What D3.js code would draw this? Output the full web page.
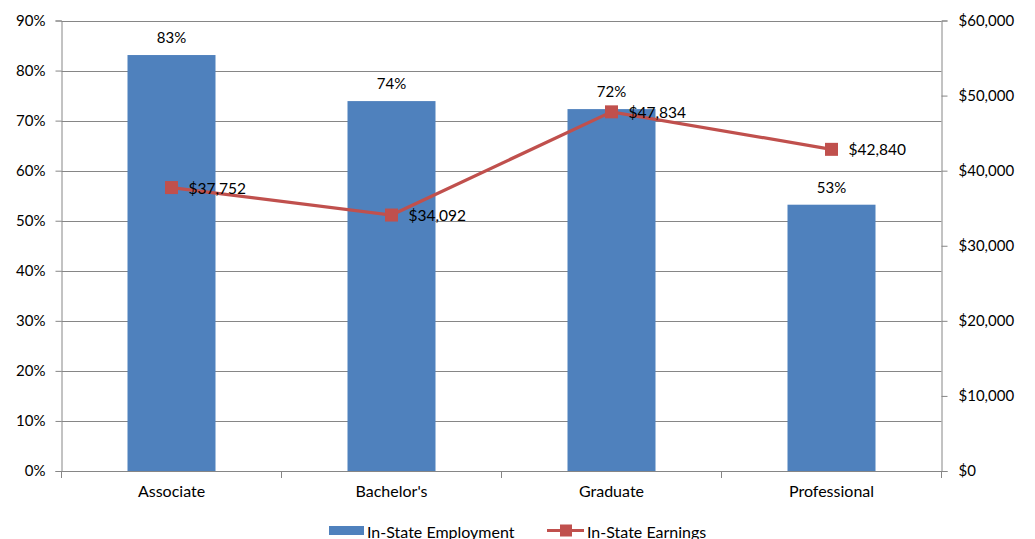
<!DOCTYPE html>
<html><head><meta charset="utf-8">
<script src="https://cdn.jsdelivr.net/npm/d3@7"></script>
<style>body{margin:0;background:#fff}svg{display:block}text{font-family:Lato,"Liberation Sans",sans-serif;fill:#000}</style>
</head><body><svg id="c" width="1035" height="539"></svg>
<script>
const categories = ["Associate", "Bachelor's", "Graduate", "Professional"];
const employment = [0.831, 0.739, 0.723, 0.532];
const earnings = [37752, 34092, 47834, 42840];
const leftTicks = [0,0.1,0.2,0.3,0.4,0.5,0.6,0.7,0.8,0.9];
const rightTicks = [0,10000,20000,30000,40000,50000,60000];
const seriesNames = ["In-State Employment", "In-State Earnings"];

const svg = d3.select("#c");
const L = 61.5, R = 941.5, T = 20.5, B = 471;
const x = d3.scaleBand().domain(categories).range([L, R]).paddingInner(0.6).paddingOuter(0.3);
const xb = d3.scaleBand().domain(categories).range([L, R]);
const yL = d3.scaleLinear().domain([0, 0.9]).range([B, T]);
const yR = d3.scaleLinear().domain([0, 60000]).range([B, T]);
const grey = "#868686";
const fs = "15px";
const fsW = "16px";

// gridlines
svg.append("g").selectAll("line").data(leftTicks.slice(1)).join("line")
  .attr("x1", L).attr("x2", R).attr("y1", d => Math.round(yL(d)) + 0.5).attr("y2", d => Math.round(yL(d)) + 0.5)
  .attr("stroke", grey).attr("stroke-width", 1);

// bars
svg.append("g").selectAll("rect").data(categories).join("rect")
  .attr("x", d => x(d)).attr("width", x.bandwidth())
  .attr("y", (d, i) => yL(employment[i])).attr("height", (d, i) => B - yL(employment[i]))
  .attr("fill", "#4F81BD");

// left axis
const gl = svg.append("g").attr("transform", `translate(${L},0)`)
  .call(d3.axisLeft(yL).tickValues(leftTicks).tickFormat(d3.format(".0%")).tickSize(6).tickPadding(10));
gl.select(".domain").attr("stroke", grey);
gl.selectAll(".tick line").attr("stroke", grey);
gl.selectAll("text").style("font-size", fs).attr("font-family", null);

// right axis
const gr = svg.append("g").attr("transform", `translate(${R},0)`)
  .call(d3.axisRight(yR).tickValues(rightTicks).tickFormat(d => "$" + d3.format(",")(d)).tickSize(6).tickPadding(11));
gr.select(".domain").attr("stroke", grey);
gr.selectAll(".tick line").attr("stroke", grey);
gr.selectAll("text").style("font-size", fs).attr("font-family", null);

// bottom axis
const gb = svg.append("g").attr("transform", `translate(0,${B})`)
  .call(d3.axisBottom(xb).tickSize(0).tickPadding(15));
gb.select(".domain").attr("stroke", grey);
gb.selectAll("text").style("font-size", fsW).attr("font-family", null);
svg.append("g").selectAll("line").data(categories.concat(["__end"])).join("line")
  .attr("x1", (d, i) => i < categories.length ? xb(d) : R)
  .attr("x2", (d, i) => i < categories.length ? xb(d) : R)
  .attr("y1", B).attr("y2", B + 7).attr("stroke", grey);

// bar labels
svg.append("g").selectAll("text").data(categories).join("text")
  .attr("x", d => x(d) + x.bandwidth() / 2).attr("y", (d, i) => yL(employment[i]) - 12)
  .attr("text-anchor", "middle").style("font-size", fs)
  .text((d, i) => d3.format(".0%")(employment[i]));

// line
const cx = d => xb(d) + xb.bandwidth() / 2;
const line = d3.line().x(d => cx(d)).y((d, i) => yR(earnings[i]));
svg.append("path").datum(categories).attr("d", line)
  .attr("fill", "none").attr("stroke", "#C0504D").attr("stroke-width", 3.2);
svg.append("g").selectAll("rect").data(categories).join("rect")
  .attr("x", d => cx(d) - 6.5).attr("y", (d, i) => yR(earnings[i]) - 6.5)
  .attr("width", 13).attr("height", 13).attr("fill", "#C0504D");
svg.append("g").selectAll("text").data(categories).join("text")
  .attr("x", d => cx(d) + 17).attr("y", (d, i) => yR(earnings[i]) + 6)
  .style("font-size", "15.5px")
  .text((d, i) => "$" + d3.format(",")(earnings[i]));

// legend
const lg = svg.append("g");
lg.append("rect").attr("x", 329).attr("y", 526).attr("width", 35).attr("height", 9).attr("fill", "#4F81BD");
lg.append("text").attr("x", 367).attr("y", 537.5).style("font-size", fsW).text(seriesNames[0]);
lg.append("line").attr("x1", 547).attr("x2", 584).attr("y1", 530.5).attr("y2", 530.5).attr("stroke", "#C0504D").attr("stroke-width", 3.2);
lg.append("rect").attr("x", 560).attr("y", 524.5).attr("width", 12).attr("height", 12).attr("fill", "#C0504D");
lg.append("text").attr("x", 587).attr("y", 537.5).style("font-size", fsW).text(seriesNames[1]);
</script></body></html>
